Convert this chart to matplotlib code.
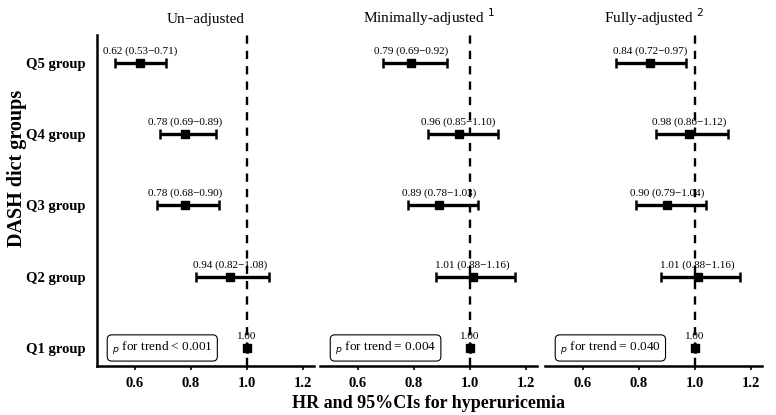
import matplotlib.pyplot as plt
import numpy as np

plt.rcParams['font.family'] = ['Liberation Serif', 'DejaVu Serif']

groups = ['Q1 group', 'Q2 group', 'Q3 group', 'Q4 group', 'Q5 group']
titles = ['Un\u2212adjusted', 'Minimally-adjusted $^{1}$', 'Fully-adjusted $^{2}$']

# HR, lower, upper for Q1..Q5
hr = [[1.00, 0.94, 0.78, 0.78, 0.62],
      [1.00, 1.01, 0.89, 0.96, 0.79],
      [1.00, 1.01, 0.90, 0.98, 0.84]]
lo = [[1.00, 0.82, 0.68, 0.69, 0.53],
      [1.00, 0.88, 0.78, 0.85, 0.69],
      [1.00, 0.88, 0.79, 0.86, 0.72]]
hi = [[1.00, 1.08, 0.90, 0.89, 0.71],
      [1.00, 1.16, 1.03, 1.10, 0.92],
      [1.00, 1.16, 1.04, 1.12, 0.97]]
p_text = ['< 0.001', '= 0.004', '= 0.040']

fig = plt.figure(figsize=(7.76, 4.15), dpi=100)
lefts = [97, 320, 545]
width = 217
ypos = np.arange(len(groups))

for k in range(3):
    ax = fig.add_axes([lefts[k] / 776, 49 / 415, width / 776, 331 / 415])
    h = np.array(hr[k]); l = np.array(lo[k]); u = np.array(hi[k])
    ax.errorbar(h, ypos, xerr=[h - l, u - h], fmt='s', color='black',
                ms=5.5, elinewidth=2.4, capsize=3.5, capthick=1.8)
    ax.axvline(1.0, color='black', ls=(0, (3.5, 3)), lw=1.7, zorder=0)
    for i in range(len(groups)):
        if i == 0:
            s = '1.00'
        else:
            s = '%.2f (%.2f\u2212%.2f)' % (h[i], l[i], u[i])
        ax.text(h[i], ypos[i] + 0.1, s, ha='center', va='bottom', fontsize=8)
    ax.text(0.518, 0, '$_{p}$ for trend ' + p_text[k], ha='left', va='center',
            fontsize=9.5,
            bbox=dict(boxstyle='round,pad=0.35', fc='white', ec='black', lw=0.8))
    ax.set_xlim(0.465, 1.24)
    ax.set_ylim(-0.253, 4.39)
    ax.set_xticks([0.6, 0.8, 1.0, 1.2])
    ax.set_xticklabels(['0.6', '0.8', '1.0', '1.2'], fontweight='bold', fontsize=10.5)
    ax.tick_params(axis='x', length=3, width=1.2, pad=5)
    ax.spines['top'].set_visible(False)
    ax.spines['right'].set_visible(False)
    ax.spines['bottom'].set_linewidth(1.8)
    if k == 0:
        ax.spines['left'].set_linewidth(1.8)
        ax.set_yticks(ypos)
        ax.set_yticklabels(groups, fontweight='bold', fontsize=10.5)
        ax.tick_params(axis='y', length=0, pad=8)
    else:
        ax.spines['left'].set_visible(False)
        ax.set_yticks([])
    ax.set_title(titles[k], fontsize=11, pad=9)

fig.text(17 / 776, 1 - 168 / 415, 'DASH dict groups', rotation=90, ha='center',
         va='center', fontweight='bold', fontsize=14.5)
fig.text(429 / 776, 1 - 403 / 415, 'HR and 95%CIs for hyperuricemia', ha='center',
         va='center', fontweight='bold', fontsize=13)
fig.savefig('out.png', dpi=100)
